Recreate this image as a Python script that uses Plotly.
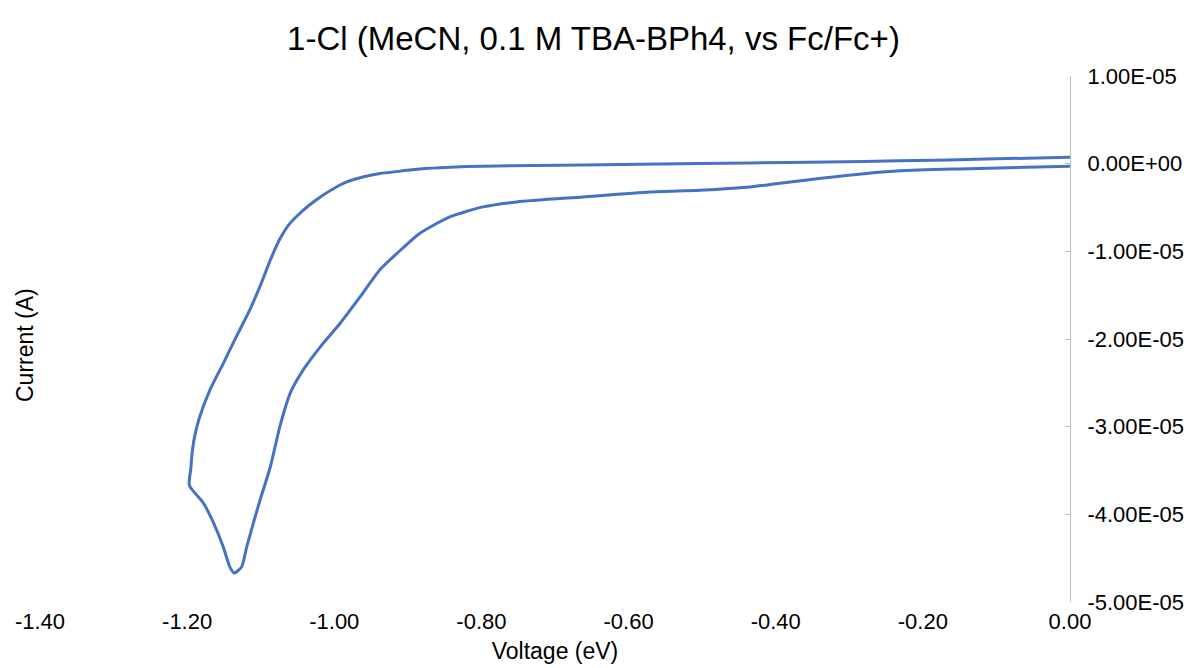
import plotly.graph_objects as go

# Cyclic voltammogram: cathodic scan from 0 V to -1.20 V, then return scan to 0 V
voltage = [0.000, -0.100, -0.231, -0.330, -0.435, -0.503, -0.662, -0.798, -0.843, -0.884,
           -0.910, -0.938, -0.960, -0.983, -1.000, -1.019, -1.035, -1.051, -1.063, -1.074,
           -1.087, -1.101, -1.115, -1.133, -1.151, -1.169, -1.183, -1.189, -1.193, -1.195,
           -1.197, -1.178, -1.164, -1.151, -1.142, -1.136, -1.126, -1.119, -1.110, -1.101,
           -1.087, -1.074, -1.060, -1.042, -1.019, -0.992, -0.965, -0.938, -0.915, -0.884,
           -0.843, -0.798, -0.752, -0.662, -0.571, -0.503, -0.435, -0.400, -0.360, -0.322,
           -0.280, -0.231, -0.150, 0.000]
current = [0.74e-6, 0.55e-6, 0.32e-6, 0.20e-6, 0.09e-6, 0.02e-6, -0.14e-6, -0.29e-6, -0.40e-6, -0.60e-6,
           -0.85e-6, -1.12e-6, -1.50e-6, -2.08e-6, -2.80e-6, -3.79e-6, -4.80e-6, -6.00e-6, -7.10e-6, -8.60e-6,
           -11.0e-6, -14.0e-6, -16.7e-6, -19.7e-6, -22.8e-6, -25.8e-6, -28.9e-6, -30.8e-6, -32.8e-6, -34.8e-6,
           -36.7e-6, -38.7e-6, -41.0e-6, -43.7e-6, -46.0e-6, -46.7e-6, -46.0e-6, -43.7e-6, -41.0e-6, -38.4e-6,
           -34.6e-6, -30.0e-6, -26.2e-6, -23.5e-6, -20.9e-6, -18.2e-6, -15.2e-6, -12.1e-6, -10.25e-6, -7.96e-6,
           -6.07e-6, -4.93e-6, -4.36e-6, -3.79e-6, -3.22e-6, -3.02e-6, -2.65e-6, -2.30e-6, -1.90e-6, -1.51e-6,
           -1.15e-6, -0.82e-6, -0.60e-6, -0.29e-6]

x_ticks = [-1.4, -1.2, -1.0, -0.8, -0.6, -0.4, -0.2, 0.0]
x_ticktext = ["-1.40", "-1.20", "-1.00", "-0.80", "-0.60", "-0.40", "-0.20", "0.00"]
y_ticks = [1e-5, 0, -1e-5, -2e-5, -3e-5, -4e-5, -5e-5]
y_ticktext = ["1.00E-05", "0.00E+00", "-1.00E-05", "-2.00E-05", "-3.00E-05", "-4.00E-05", "-5.00E-05"]

FONT = "Liberation Sans, Arial, Helvetica, sans-serif"

fig = go.Figure()
fig.add_trace(go.Scatter(x=voltage, y=current, mode="lines",
                         line=dict(color="#4472C4", width=3, shape="spline", smoothing=0.6),
                         showlegend=False))

fig.update_layout(
    width=1187, height=668,
    margin=dict(l=40, r=117, t=76, b=66),
    paper_bgcolor="white", plot_bgcolor="white",
    font=dict(family=FONT, color="black"),
    title=dict(text="1-Cl (MeCN, 0.1 M TBA-BPh4, vs Fc/Fc+)",
               x=0.5, xref="container", xanchor="center",
               y=1 - 38 / 668, yref="container", yanchor="middle",
               font=dict(size=33, family=FONT, color="black")),
    xaxis=dict(range=[-1.4, 0.0], tickvals=x_ticks, ticktext=x_ticktext,
               showline=False, showgrid=False, zeroline=False, automargin=False,
               ticks="", tickfont=dict(size=22, family=FONT),
               ticklabelstandoff=4,
               title=dict(text="Voltage (eV)", font=dict(size=23, family=FONT), standoff=9)),
    yaxis=dict(range=[-5e-5, 1e-5], side="right", tickvals=y_ticks, ticktext=y_ticktext,
               showline=True, linecolor="#BFBFBF", linewidth=1, automargin=False,
               ticks="inside", ticklen=5, tickcolor="#BFBFBF",
               showgrid=False, zeroline=False,
               tickfont=dict(size=22, family=FONT), ticklabelstandoff=12),
)

fig.add_annotation(text="Current (A)", textangle=-90,
                   x=(25 - 40) / (1187 - 40 - 117), y=(602 - 345) / (602 - 76),
                   xref="paper", yref="paper", xanchor="center", yanchor="middle",
                   showarrow=False,
                   font=dict(size=23, family=FONT, color="black"))

fig.write_html("out.html")
